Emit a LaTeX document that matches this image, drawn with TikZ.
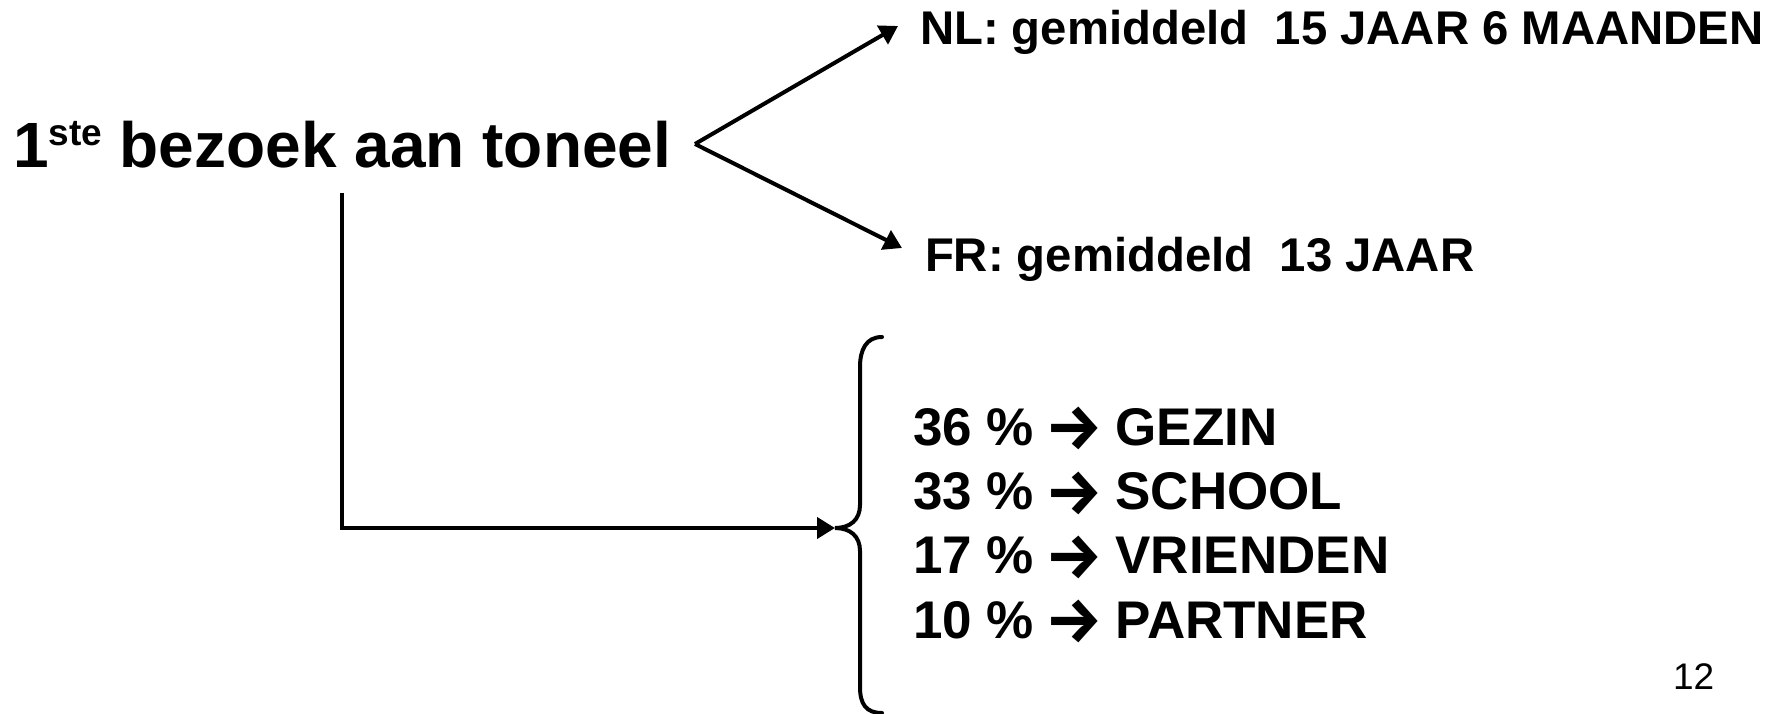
\documentclass[tikz,border=0pt]{standalone}
\usepackage{fontspec}
\setmainfont{Liberation Sans}
\newfontfamily\arrowfont{Fira Sans}
\usetikzlibrary{arrows.meta}
\newcommand\listarrow{\hspace{11pt}\raisebox{-4.5pt}{\arrowfont\bfseries\fontsize{64}{64}\selectfont →}\hspace{13pt}}
\tikzset{
  lbl/.style={inner sep=0pt, outer sep=0pt, anchor=base west},
  conn/.style={line width=4pt, -{Triangle[length=18pt,width=21pt]}},
  bracestyle/.style={line width=4pt, line cap=round}
}
\begin{document}
\begin{tikzpicture}[x=1pt,y=-1pt]
\useasboundingbox[fill=white] (0,0) rectangle (1775,714);
% title
\node[lbl, font=\bfseries\fontsize{64}{64}\selectfont] (title) at (13,168) {1\raisebox{22pt}{\fontsize{37}{37}\selectfont ste} bezoek aan toneel};
% right-hand labels
\node[lbl, font=\bfseries\fontsize{47.3}{47.3}\selectfont] (nl) at (920,45) {NL: gemiddeld\ \ 15 JAAR 6 MAANDEN};
\node[lbl, font=\bfseries\fontsize{47.3}{47.3}\selectfont] (fr) at (925,272) {FR: gemiddeld\ \ 13 JAAR};
% list
\node[inner sep=0pt, anchor=north west, align=left, font=\bfseries\fontsize{53}{64.3}\selectfont] (list) at (913,407) {36 \%\listarrow GEZIN\\
33 \%\listarrow SCHOOL\\
17 \%\listarrow VRIENDEN\\
10 \%\listarrow PARTNER};
% page number
\node[lbl, font=\fontsize{37}{37}\selectfont] (page) at (1673,689) {12};
% connector points
\coordinate (v) at (695,144);
\coordinate (nltip) at (898,26);
\coordinate (frtip) at (902,248);
\coordinate (vtop) at (342,193);
\coordinate (corner) at (342,528);
\coordinate (bracetip) at (835,528);
\draw[conn] (v) -- (nltip);
\draw[conn] (v) -- (frtip);
\draw[line width=4pt] (vtop) -- (corner);
\draw[conn] ([xshift=-2pt]corner) -- (bracetip);
% brace
\draw[bracestyle] (882,337) .. controls (866,337) and (860,350) .. (860,367)
  -- (860,505) .. controls (860,520) and (850,528) .. (bracetip)
  .. controls (850,528) and (860,536) .. (860,551)
  -- (860,687) .. controls (860,704) and (866,713) .. (882,713);
\end{tikzpicture}
\end{document}
